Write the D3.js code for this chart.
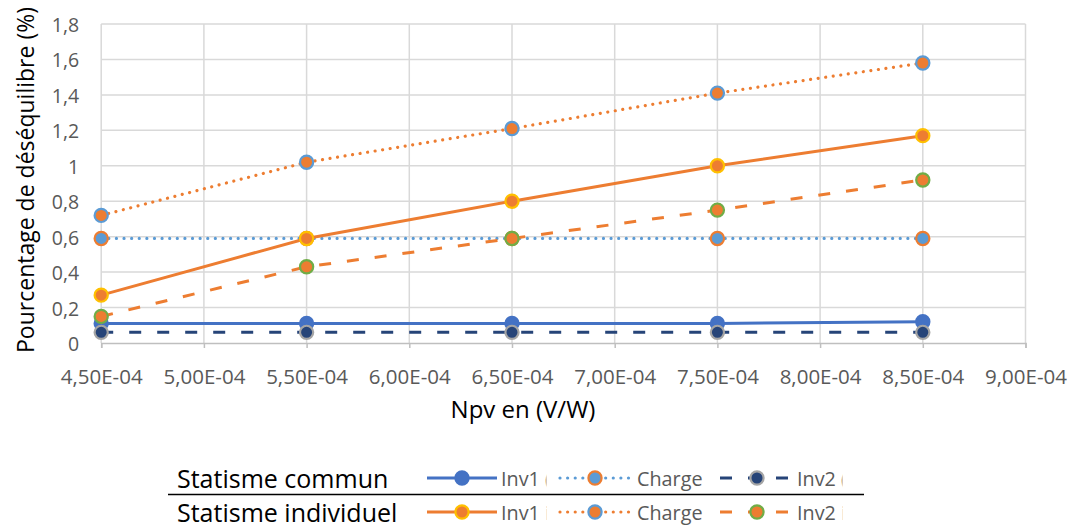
<!DOCTYPE html>
<html>
<head>
<meta charset="utf-8">
<script src="https://cdn.jsdelivr.net/npm/d3@7/dist/d3.min.js"></script>
<style>
  html, body { margin: 0; padding: 0; background: #fff; }
  svg { display: block; font-family: "Open Sans", "Noto Sans", sans-serif; }
</style>
</head>
<body>
<svg id="chart" width="1073" height="529"></svg>
<script>
// Npv values (V/W)
const npv = [4.5e-4, 5.5e-4, 6.5e-4, 7.5e-4, 8.5e-4];

// Statisme commun
const communInv1   = [0.11, 0.11, 0.11, 0.11, 0.12];
const communCharge = [0.59, 0.59, 0.59, 0.59, 0.59];
const communInv2   = [0.06, 0.06, 0.06, 0.06, 0.06];

// Statisme individuel
const indivInv1   = [0.27, 0.59, 0.80, 1.00, 1.17];
const indivCharge = [0.72, 1.02, 1.21, 1.41, 1.58];
const indivInv2   = [0.15, 0.43, 0.59, 0.75, 0.92];

// Axis ticks and their labels
const xTicks = [4.5e-4, 5.0e-4, 5.5e-4, 6.0e-4, 6.5e-4, 7.0e-4, 7.5e-4, 8.0e-4, 8.5e-4, 9.0e-4];
const xTickLabels = ["4,50E-04", "5,00E-04", "5,50E-04", "6,00E-04", "6,50E-04", "7,00E-04", "7,50E-04", "8,00E-04", "8,50E-04", "9,00E-04"];
const yTicks = [0, 0.2, 0.4, 0.6, 0.8, 1, 1.2, 1.4, 1.6, 1.8];
const yTickLabels = ["0", "0,2", "0,4", "0,6", "0,8", "1", "1,2", "1,4", "1,6", "1,8"];

const rowLabels = ["Statisme commun", "Statisme individuel"];
// Legend entry names (long names are cut short by the legend cell width)
const legendNames = [["Inv1 (commun)", "Charge", "Inv2 (commun)"],
                     ["Inv1 individuel", "Charge", "Inv2 individuel"]];

const svg = d3.select("#chart");

const x = d3.scaleLinear().domain([4.5e-4, 9.0e-4]).range([101.2, 1025.5]);
const y = d3.scaleLinear().domain([0, 1.8]).range([343, 24]);

const C = {
  blue: "#4472C4", lightBlue: "#5B9BD5", darkBlue: "#264478",
  orange: "#ED7D31", gold: "#FFC000", green: "#70AD47", gray: "#A5A5A5"
};

// Series styling
const DOT = "0.01 7.6", DASH = "12 16";
const series = [
  { vals: communInv1,   stroke: C.blue,      dash: null, fill: C.blue,      ring: C.blue },
  { vals: communCharge, stroke: C.lightBlue, dash: DOT,  fill: C.lightBlue, ring: C.orange },
  { vals: communInv2,   stroke: C.darkBlue,  dash: DASH, fill: C.darkBlue,  ring: C.gray },
  { vals: indivInv1,    stroke: C.orange,    dash: null, fill: C.orange,    ring: C.gold },
  { vals: indivCharge,  stroke: C.orange,    dash: DOT,  fill: C.orange,    ring: C.lightBlue },
  { vals: indivInv2,    stroke: C.orange,    dash: DASH, fill: C.orange,    ring: C.green }
];

// Gridlines
const grid = svg.append("g");
grid.selectAll("line.h").data(yTicks.slice(1)).join("line")
  .attr("x1", x(4.5e-4)).attr("x2", x(9.0e-4))
  .attr("y1", d => y(d)).attr("y2", d => y(d))
  .attr("stroke", "#D9D9D9").attr("stroke-width", 1.5);
grid.selectAll("line.v").data(xTicks).join("line")
  .attr("x1", d => x(d)).attr("x2", d => x(d))
  .attr("y1", y(0)).attr("y2", y(1.8))
  .attr("stroke", "#D9D9D9").attr("stroke-width", 1.5);

// X axis
const xAxis = d3.axisBottom(x).tickValues(xTicks).tickSize(5).tickPadding(0)
  .tickFormat((d, i) => xTickLabels[i]);
const gx = svg.append("g").attr("transform", `translate(0,${y(0)})`).call(xAxis);
gx.select(".domain").attr("stroke", "#BFBFBF").attr("stroke-width", 1.5);
gx.selectAll(".tick line").attr("stroke", "#BFBFBF").attr("stroke-width", 1.5);
gx.selectAll(".tick text").attr("fill", "#595959").attr("font-size", 20.5)
  .attr("font-family", "\"Open Sans\", sans-serif")
  .attr("y", 33).attr("dy", null).attr("dominant-baseline", "central");

// Y axis
const yAxis = d3.axisLeft(y).tickValues(yTicks).tickSize(0).tickPadding(22)
  .tickFormat((d, i) => yTickLabels[i]);
const gy = svg.append("g").attr("transform", `translate(${x(4.5e-4)},0)`).call(yAxis);
gy.select(".domain").remove();
gy.selectAll(".tick text").attr("fill", "#595959").attr("font-size", 19.5)
  .attr("font-family", "\"Open Sans\", sans-serif")
  .attr("dy", null).attr("dominant-baseline", "central");

// Axis titles
svg.append("text")
  .attr("transform", `translate(25,180) rotate(-90)`)
  .attr("text-anchor", "middle").attr("dominant-baseline", "central")
  .attr("font-size", 23).attr("fill", "#000")
  .text("Pourcentage de déséquilibre (%)");
svg.append("text")
  .attr("x", 523).attr("y", 408)
  .attr("text-anchor", "middle").attr("dominant-baseline", "central")
  .attr("font-size", 24).attr("fill", "#000")
  .text("Npv en (V/W)");

// Lines and markers
const line = d3.line().x(d => x(d[0])).y(d => y(d[1]));
const plot = svg.append("g");
const styleStroke = (sel, s) => sel
  .attr("fill", "none")
  .attr("stroke", s.stroke)
  .attr("stroke-width", s.dash === DOT ? 3.2 : 3)
  .attr("stroke-linecap", s.dash === DOT ? "round" : "butt")
  .attr("stroke-dasharray", s.dash);
series.forEach(s => {
  const pts = npv.map((v, i) => [v, s.vals[i]]);
  plot.append("path").datum(pts).attr("d", line).call(styleStroke, s);
  plot.selectAll(null).data(pts).join("circle")
    .attr("cx", d => x(d[0])).attr("cy", d => y(d[1]))
    .attr("r", 6.6)
    .attr("fill", s.fill).attr("stroke", s.ring).attr("stroke-width", 2.2);
});

// Legend
const legend = svg.append("g");
const rowY = [478, 512];
legend.append("line")
  .attr("x1", 168).attr("x2", 864).attr("y1", 494.5).attr("y2", 494.5)
  .attr("stroke", "#000").attr("stroke-width", 1.5);
legend.selectAll("text.row").data(rowLabels).join("text")
  .attr("x", 177).attr("y", (d, i) => rowY[i])
  .attr("dominant-baseline", "central")
  .attr("font-size", 25).attr("fill", "#000")
  .text(d => d);

const slots = [
  { x0: 427, x1: 497, mx: 462, tx: 501 },
  { x0: 560, x1: 630, mx: 595, tx: 637 },
  { x0: 720, x1: 792, mx: 757, tx: 797 }
];
const defs = svg.append("defs");
const LEG_FS = 19.8;

// width of the visible part of an entry name: the first word plus a sliver
function visibleWidth(name) {
  const probe = svg.append("text").attr("font-size", LEG_FS).text(name.split(" ")[0] + " ");
  const w = probe.node().getComputedTextLength();
  probe.remove();
  return name.includes(" ") ? w + 6.5 : w + 10;
}

series.forEach((s, k) => {
  const row = Math.floor(k / 3), j = k % 3, sl = slots[j], cy = rowY[row];
  const name = legendNames[row][j];
  const cid = `lc${row}${j}`;
  defs.append("clipPath").attr("id", cid)
    .append("rect").attr("x", sl.tx - 2).attr("y", cy - 15)
    .attr("width", visibleWidth(name) + 2).attr("height", 30);
  legend.append("line")
    .attr("x1", sl.x0).attr("x2", sl.x1).attr("y1", cy).attr("y2", cy)
    .call(styleStroke, s);
  legend.append("circle")
    .attr("cx", sl.mx).attr("cy", cy).attr("r", 6.6)
    .attr("fill", s.fill).attr("stroke", s.ring).attr("stroke-width", 2.2);
  legend.append("text")
    .attr("x", sl.tx).attr("y", cy)
    .attr("dominant-baseline", "central")
    .attr("clip-path", `url(#${cid})`)
    .attr("font-size", LEG_FS).attr("fill", "#595959")
    .text(name);
});
</script>
</body>
</html>
